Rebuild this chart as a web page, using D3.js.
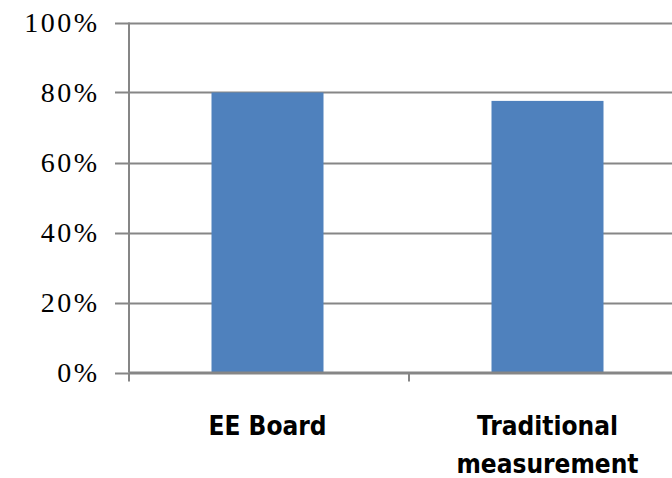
<!DOCTYPE html>
<html><head><meta charset="utf-8">
<script src="https://cdn.jsdelivr.net/npm/d3@7"></script>
<style>body{margin:0;background:#fff}svg{display:block}</style>
</head><body>
<script>
const categories = ["EE Board", "Traditional measurement"];
const categoryLines = [["EE Board"], ["Traditional", "measurement"]];
const values = [0.80, 0.776];
const yTicks = [0, 0.2, 0.4, 0.6, 0.8, 1.0];

const W = 672, H = 478;
const svg = d3.select("body").append("svg").attr("width", W).attr("height", H);

const y = d3.scaleLinear().domain([0, 1]).range([372.5, 22.5]);
const x = d3.scaleBand().domain(categories).range([129, 689]).paddingInner(0).paddingOuter(0);

// gridlines
svg.append("g").selectAll("line").data(yTicks).join("line")
  .attr("x1", 115).attr("x2", W)
  .attr("y1", d => Math.round(y(d)) + 0.5).attr("y2", d => Math.round(y(d)) + 0.5)
  .attr("stroke", "#868686").attr("stroke-width", 2);

// y axis line
svg.append("line").attr("x1", 129).attr("x2", 129).attr("y1", y(1)).attr("y2", y(0))
  .attr("stroke", "#868686").attr("stroke-width", 2);

// y tick labels
svg.append("g").selectAll("text").data(yTicks).join("text")
  .attr("x", 99.5).attr("y", d => y(d) + 9)
  .attr("text-anchor", "end")
  .attr("font-family", "Liberation Serif, serif").attr("font-size", 28)
  .attr("letter-spacing", 2.5)
  .attr("fill", "#000")
  .text(d => d3.format(".0%")(d));

// bars
const bw = x.bandwidth() * 0.4;
svg.append("g").selectAll("rect").data(categories).join("rect")
  .attr("x", d => x(d) + x.bandwidth() / 2 - bw / 2 - 1.5)
  .attr("width", bw)
  .attr("y", (d, i) => y(values[i]))
  .attr("height", (d, i) => y(0) - y(values[i]))
  .attr("fill", "#4f81bd");

// x axis baseline & category ticks
svg.append("line").attr("x1", 129).attr("x2", W).attr("y1", y(0)).attr("y2", y(0))
  .attr("stroke", "#868686").attr("stroke-width", 2);
const bounds = categories.map(c => x(c));
svg.append("g").selectAll("line").data(bounds).join("line")
  .attr("x1", d => d).attr("x2", d => d)
  .attr("y1", y(0)).attr("y2", y(0) + 9)
  .attr("stroke", "#868686").attr("stroke-width", 2);

// category labels
categories.forEach((c, i) => {
  const cx = x(c) + x.bandwidth() / 2 - 1.5;
  const t = svg.append("text").attr("text-anchor", "middle")
    .attr("font-family", "DejaVu Sans Condensed, sans-serif").attr("font-size", 26)
    .attr("font-weight", "bold")
    .attr("fill", "#000");
  categoryLines[i].forEach((ln, j) => {
    t.append("tspan").attr("x", cx).attr("y", 435 + j * 38).text(ln);
  });
});
</script>
</body></html>
